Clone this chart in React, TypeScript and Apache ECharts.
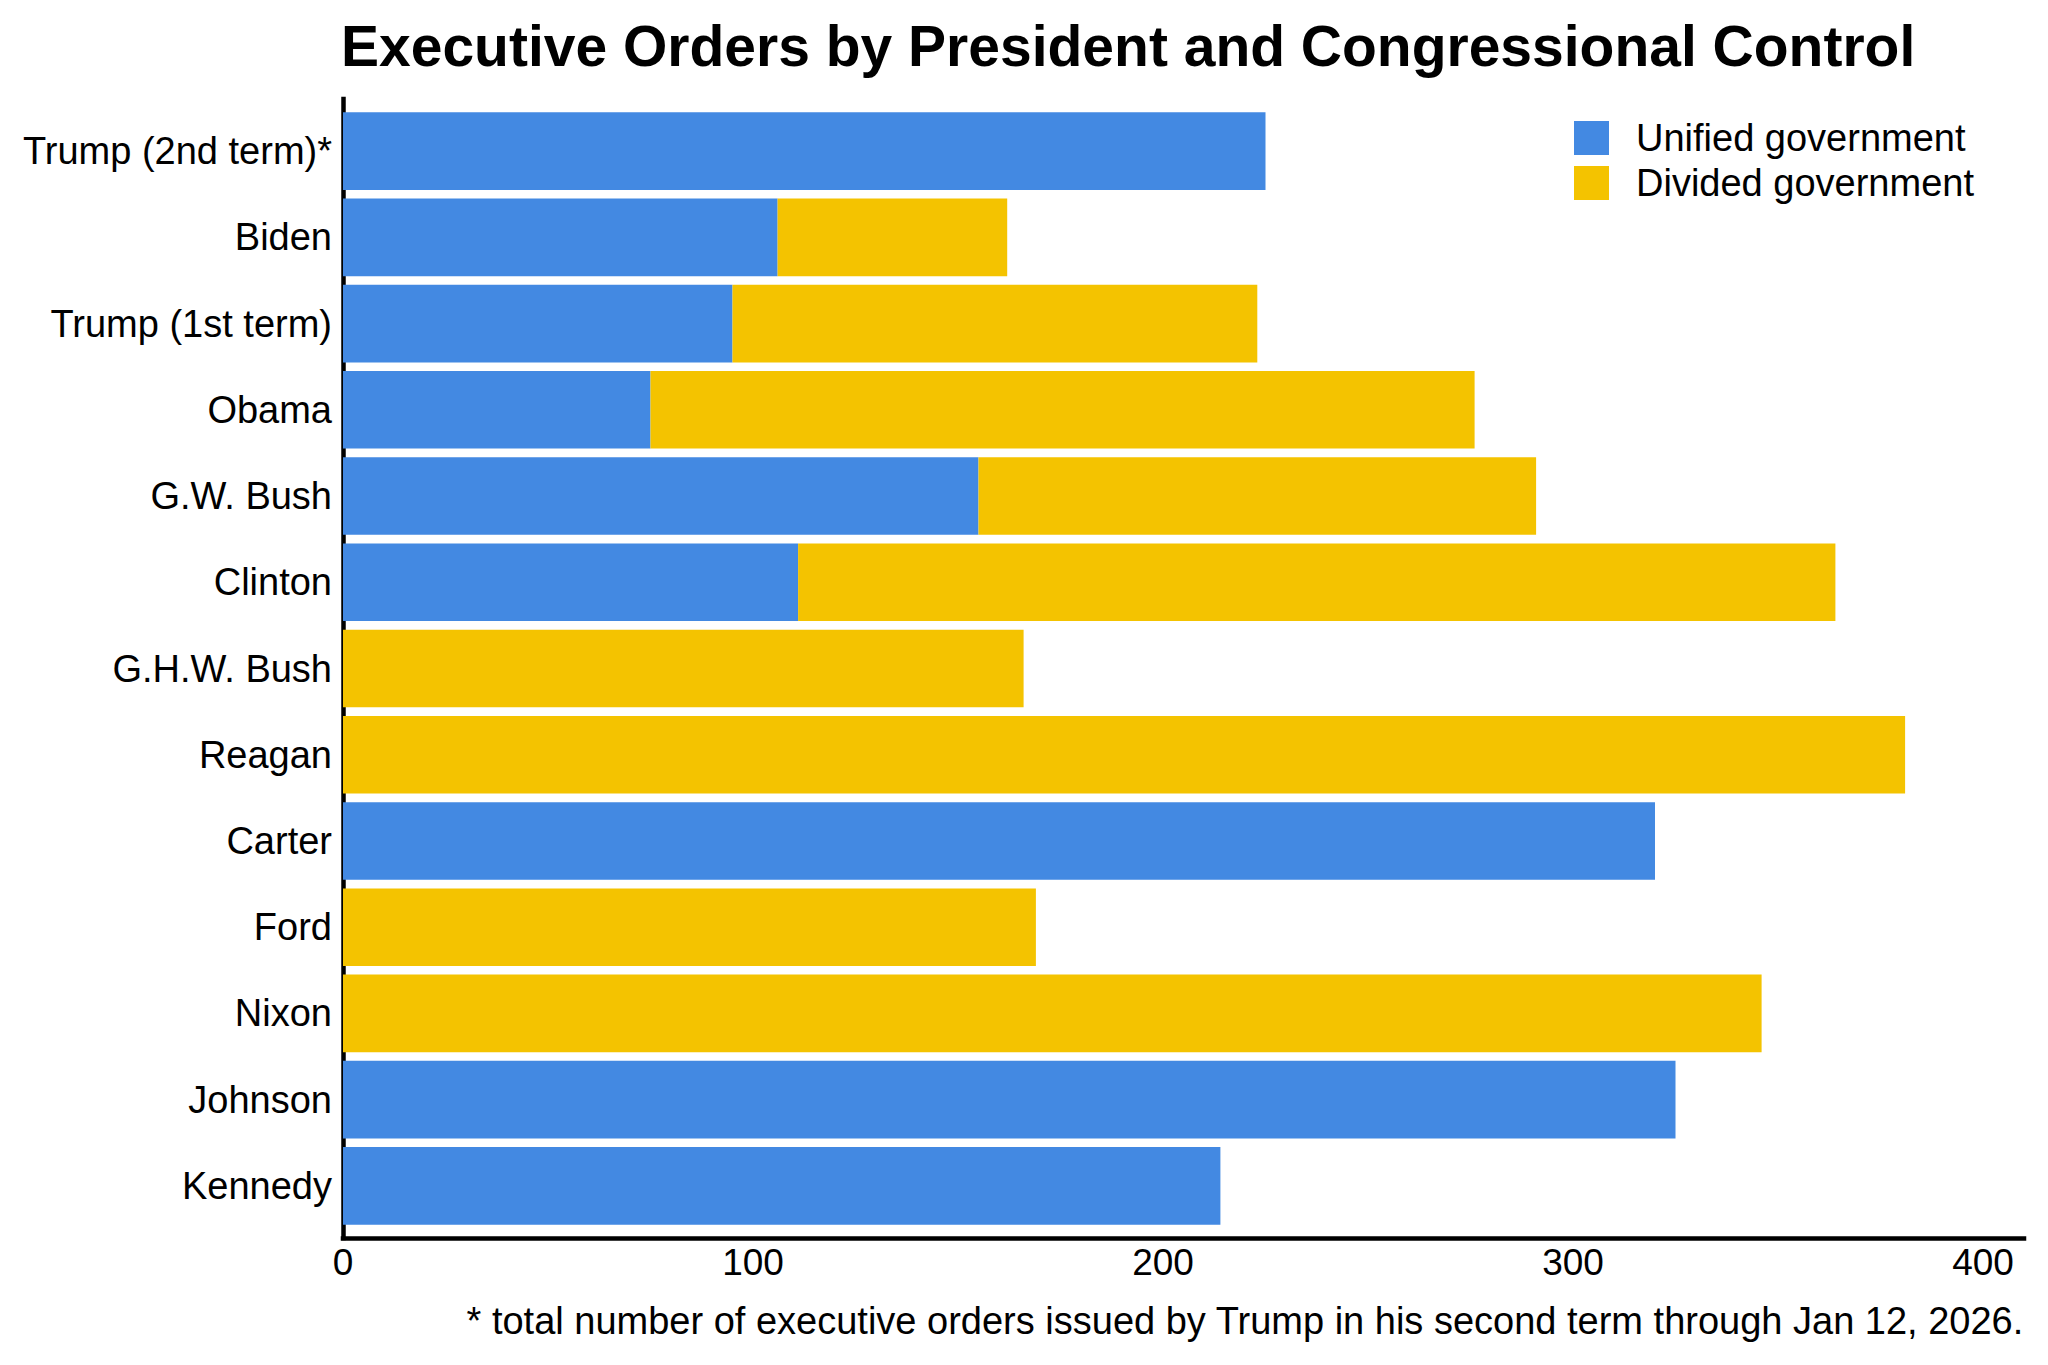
import React, { useEffect, useRef } from "react";
import * as echarts from "echarts";

const presidents = [
  "Trump (2nd term)*",
  "Biden",
  "Trump (1st term)",
  "Obama",
  "G.W. Bush",
  "Clinton",
  "G.H.W. Bush",
  "Reagan",
  "Carter",
  "Ford",
  "Nixon",
  "Johnson",
  "Kennedy",
];
const unified = [225, 106, 95, 75, 155, 111, 0, 0, 320, 0, 0, 325, 214];
const divided = [0, 56, 128, 201, 136, 253, 166, 381, 0, 169, 346, 0, 0];
const seriesNames = ["Unified government", "Divided government"];
const xTicks = [0, 100, 200, 300, 400];
const titleText = "Executive Orders by President and Congressional Control";
const footnote =
  "* total number of executive orders issued by Trump in his second term through Jan 12, 2026.";

const FONT = "'Liberation Sans', Arial, Helvetica, sans-serif";
const BLUE = "#4389E2";
const YELLOW = "#F4C300";

export default function App() {
  const ref = useRef<HTMLDivElement>(null);
  useEffect(() => {
    document.body.style.margin = "0";
    if (!ref.current) return;
    const chart = echarts.init(ref.current, null, { renderer: "svg" });
    const axisLineStyle = { color: "#000", width: 4.5, cap: "square" };
    chart.setOption({
      animation: false,
      backgroundColor: "#fff",
      textStyle: { fontFamily: FONT },
      title: {
        text: titleText,
        left: 336,
        top: 12,
        textStyle: { fontSize: 57, fontWeight: "bold", color: "#000", fontFamily: FONT },
      },
      legend: {
        data: seriesNames,
        orient: "vertical",
        left: 1574,
        top: 119,
        padding: 0,
        itemWidth: 35,
        itemHeight: 34,
        itemGap: 7,
        icon: "rect",
        textStyle: { fontSize: 38, color: "#000", fontFamily: FONT, padding: [0, 0, 0, 22] },
      },
      grid: [
        { left: 343, top: 108, width: 1681, height: 1121 },
        { left: 343, top: 99, width: 1681, height: 1139 },
      ],
      xAxis: [
        { gridIndex: 0, type: "value", min: 0, max: 410, show: false },
        {
          gridIndex: 1,
          type: "value",
          min: 0,
          max: 410,
          interval: 100,
          axisLine: { show: true, onZero: false, lineStyle: axisLineStyle },
          axisTick: { show: false },
          splitLine: { show: false },
          axisLabel: {
            fontSize: 37,
            color: "#000",
            fontFamily: FONT,
            margin: 6,
            formatter: (v: number) => (xTicks.includes(v) ? String(v) : ""),
          },
        },
      ],
      yAxis: [
        {
          gridIndex: 0,
          type: "category",
          data: presidents,
          inverse: true,
          axisLine: { show: false },
          axisTick: { show: false },
          splitLine: { show: false },
          axisLabel: { fontSize: 38, color: "#000", fontFamily: FONT, margin: 11 },
        },
        {
          gridIndex: 1,
          type: "value",
          min: 0,
          max: 1,
          axisLine: { show: true, onZero: false, lineStyle: axisLineStyle },
          axisTick: { show: false },
          splitLine: { show: false },
          axisLabel: { show: false },
        },
      ],
      series: [
        {
          name: seriesNames[0],
          type: "bar",
          stack: "total",
          xAxisIndex: 0,
          yAxisIndex: 0,
          data: unified,
          barCategoryGap: "10%",
          itemStyle: { color: BLUE },
        },
        {
          name: seriesNames[1],
          type: "bar",
          stack: "total",
          xAxisIndex: 0,
          yAxisIndex: 0,
          data: divided,
          barCategoryGap: "10%",
          itemStyle: { color: YELLOW },
        },
      ],
      graphic: [
        {
          type: "text",
          right: 24,
          top: 1302,
          style: { text: footnote, font: `38px ${FONT}`, fill: "#000" },
        },
      ],
    });
    return () => chart.dispose();
  }, []);
  return <div ref={ref} style={{ width: 2048, height: 1365 }} />;
}
